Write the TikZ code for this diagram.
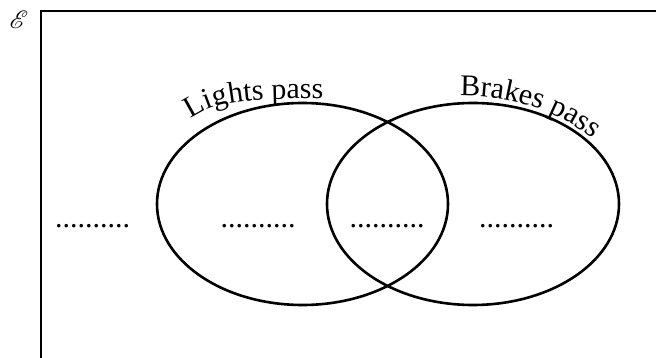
\documentclass[tikz,border=0pt]{standalone}
\usepackage{fontspec}
\setmainfont{Liberation Serif}
\usepackage{mathrsfs}
\usetikzlibrary{decorations.text}
\begin{document}
\begin{tikzpicture}[x=1pt,y=-1pt,
  frame/.style={line width=2.6pt},
  setline/.style={line width=2.6pt},
  dotrow/.style={inner sep=0pt,anchor=base,font=\fontsize{30}{30}\selectfont}]
\useasboundingbox (0,0) rectangle (656,358);
% universal set frame
\draw[frame] (41,358) -- (41,11) -- (656,11);
\node[inner sep=0pt,scale=2.5] (U) at (19,20) {$\mathscr{E}$};
% sets
\coordinate (L) at (302.5,204);
\coordinate (B) at (473,204);
\draw[setline] (L) ellipse [x radius=145.5pt, y radius=101pt];
\draw[setline] (B) ellipse [x radius=146pt, y radius=101pt];
% labels
\path[decorate,decoration={text along path,text align=left,
  text={|\fontsize{30}{30}\selectfont|Lights pass}}]
  (191,119) .. controls (218,100) and (250,98) .. (335,99);
\path[decorate,decoration={text along path,text align=left,
  text={|\fontsize{30}{30}\selectfont|Brakes pass}}]
  (460,96) .. controls (505,95) and (560,108) .. (600,145);
% region placeholders
\node[dotrow] (d1) at (92.5,227.5) {..........};
\node[dotrow] (d2) at (258,227.5) {..........};
\node[dotrow] (d3) at (387,227.5) {..........};
\node[dotrow] (d4) at (516.5,227.5) {..........};
\end{tikzpicture}
\end{document}
